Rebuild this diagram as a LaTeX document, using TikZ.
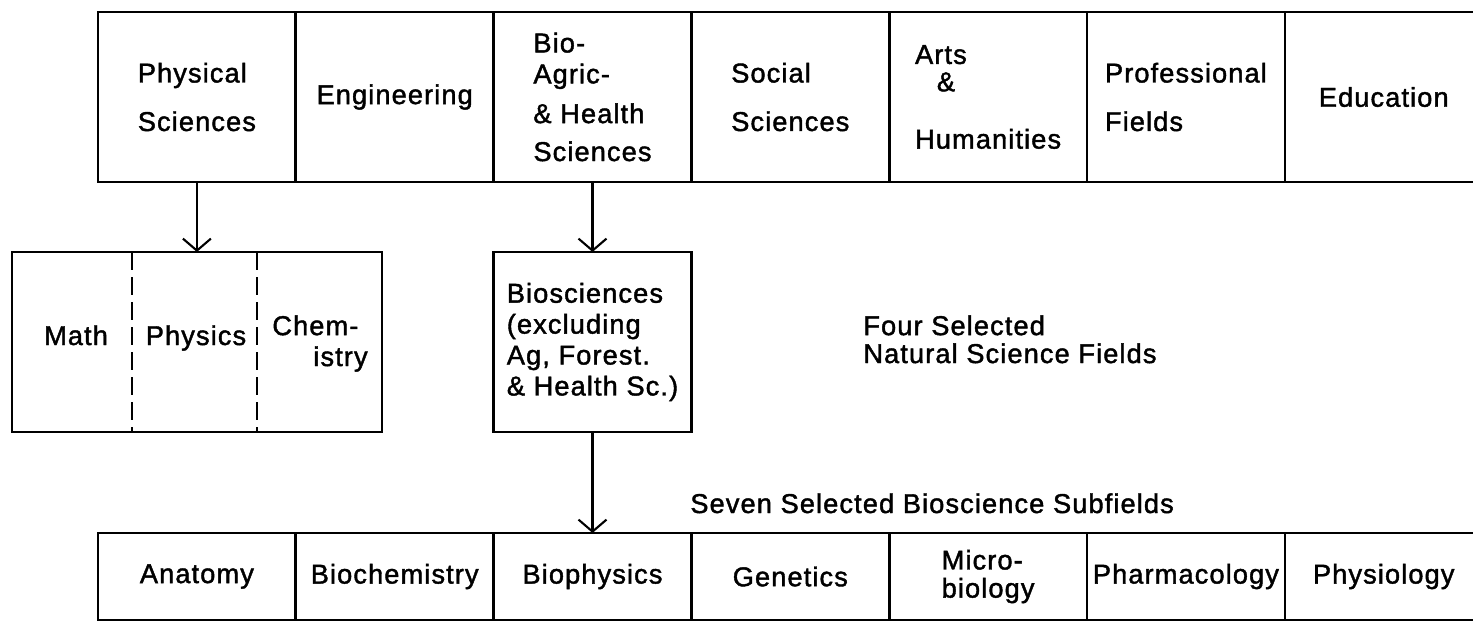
\documentclass[tikz,border=0pt]{standalone}
\usepackage{fontspec}
\setmainfont[LetterSpace=4, FakeBold=1.5]{Liberation Sans}
\usetikzlibrary{positioning, arrows.meta}

\begin{document}
\begin{tikzpicture}[x=0.2mm, y=-0.2mm,
  every node/.style = {font=\fontsize{15.5}{17.6}\selectfont, align=left},
  fieldcell/.style = {draw, line width=1.5pt, outer sep=0pt, inner sep=1pt,
                      minimum width=39.56mm},
  majorcell/.style = {fieldcell, minimum height=34mm},
  minorcell/.style = {fieldcell, minimum height=17.4mm},
  groupbox/.style = {draw, line width=1.5pt, outer sep=0pt, inner sep=2pt,
                     minimum height=36mm},
  arrowline/.style = {line width=1.2pt, -{Straight Barb[length=2.4mm, width=5.6mm]}},
  divider/.style = {line width=1.1pt, dash pattern=on 3.6mm off 1.4mm},
  note/.style = {inner sep=0pt}]

  \useasboundingbox (0,0) rectangle (1473,624);
  \clip (0,0) rectangle (1473,624);

  % broad fields
  \node[majorcell] (phys) at (196.9,97) {Physical\\[10pt]Sciences};
  \node[majorcell, right=0pt of phys] (eng) {Engineering};
  \node[majorcell, right=0pt of eng] (bio) {Bio-\\Agric-\\[5pt]\& Health\\[4pt]Sciences};
  \node[majorcell, right=0pt of bio] (soc) {Social\\[10pt]Sciences};
  \node[majorcell, right=0pt of soc] (arts) {Arts\\[-2pt]\hspace{0.8em}\&\\[15pt]Humanities};
  \node[majorcell, right=0pt of arts] (prof) {Professional\\[10pt]Fields};
  \node[majorcell, right=0pt of prof] (edu) {Education};

  % selected fields
  \node[groupbox, minimum width=74mm, below=14mm of phys] (mpc) {};
  \node[groupbox, minimum width=39.56mm, below=14mm of bio] (bios)
    {Biosciences\\(excluding\\Ag, Forest.\\\& Health Sc.)};

  \draw[divider] ([xshift=24mm]mpc.north west) -- ([xshift=24mm]mpc.south west);
  \draw[divider] ([xshift=49mm]mpc.north west) -- ([xshift=49mm]mpc.south west);

  \node[note, anchor=base] (math) at (76,345) {Math};
  \node[note, anchor=base] (physics) at (196,345) {Physics};
  \node[note, anchor=north west] (chem) at (272,315) {Chem-\\\hspace*{8.2mm}istry};

  \node[note, anchor=north west] (four) at (863,315)
    {Four Selected\\[-1.7pt]Natural Science Fields};

  % bioscience subfields
  \node[minorcell] (anat) at (196.9,576.5) {Anatomy};
  \node[minorcell, right=0pt of anat] (biochem) {Biochemistry};
  \node[minorcell, right=0pt of biochem] (biophys) {Biophysics};
  \node[minorcell, right=0pt of biophys] (gen) {Genetics};
  \node[minorcell, right=0pt of gen] (micro) {Micro-\\[-1.6pt]biology};
  \node[minorcell, right=0pt of micro] (pharm) {Pharmacology};
  \node[minorcell, right=0pt of pharm] (physio) {Physiology};

  \node[note, anchor=base west] (seven) at (690,513) {Seven Selected Bioscience Subfields};

  \draw[arrowline] (phys.south) -- (mpc.north);
  \draw[arrowline] (bio.south) -- (bios.north);
  \draw[arrowline] (bios.south) -- (biophys.north);
\end{tikzpicture}
\end{document}
